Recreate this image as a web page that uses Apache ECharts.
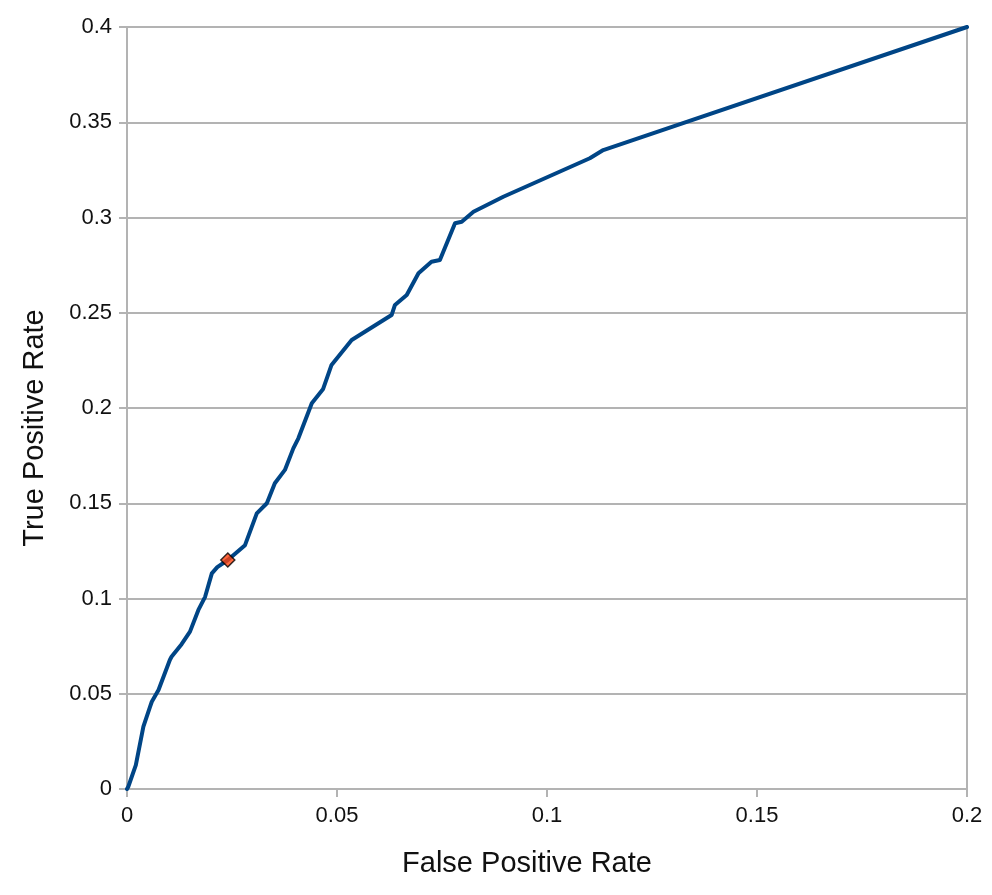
<!DOCTYPE html>
<html>
<head>
<meta charset="utf-8">
<script src="https://cdn.jsdelivr.net/npm/echarts@6/dist/echarts.min.js"></script>
<style>
  html, body { margin: 0; padding: 0; background: #fff; }
  #main { width: 992px; height: 895px; }
</style>
</head>
<body>
<div id="main"></div>
<script>
// ROC curve
const fpr = [0, 0.0003, 0.0021, 0.0039, 0.0055, 0.0059, 0.0075, 0.0102, 0.0106, 0.0130, 0.0150,
  0.0170, 0.0186, 0.0202, 0.0215, 0.0240, 0.0281, 0.0309, 0.0333, 0.0352, 0.0376, 0.0396,
  0.0408, 0.0440, 0.0467, 0.0487, 0.0535, 0.0630, 0.0638, 0.0666, 0.0694, 0.0725, 0.0745,
  0.0781, 0.0797, 0.0825, 0.0896, 0.1102, 0.1134, 0.2];
const tpr = [0, 0.0012, 0.0125, 0.0327, 0.0432, 0.0458, 0.052, 0.0677, 0.0694, 0.0760, 0.0826,
  0.094, 0.1009, 0.1132, 0.1165, 0.1202, 0.128, 0.1447, 0.150, 0.1605, 0.1675, 0.1788,
  0.1841, 0.2025, 0.2100, 0.2226, 0.2357, 0.2488, 0.2541, 0.2593, 0.2707, 0.2768, 0.2777,
  0.2970, 0.2978, 0.3030, 0.3109, 0.3311, 0.3354, 0.4];
const operatingPoint = [0.024, 0.1202];

const xTicks = [0, 0.05, 0.1, 0.15, 0.2];
const yTicks = [0, 0.05, 0.1, 0.15, 0.2, 0.25, 0.3, 0.35, 0.4];

var myChart = echarts.init(document.getElementById("main"));

const axisFont = { fontFamily: "Liberation Sans", fontSize: 22, color: "#111" };
const gray = "#b3b3b3";

option = {
  animation: false,
  grid: { left: 127, right: 25, top: 27, bottom: 106, show: true, borderColor: gray, borderWidth: 2 },
  xAxis: {
    type: "value",
    min: xTicks[0],
    max: xTicks[xTicks.length - 1],
    interval: 0.05,
    name: "False Positive Rate",
    nameLocation: "middle",
    nameGap: 60,
    // titles sit a bit off the plot centre in the original
    nameTextStyle: { fontFamily: "Liberation Sans", fontSize: 29, color: "#111", padding: [0, 40, 0, 0] },
    axisLine: { lineStyle: { color: gray, width: 2 } },
    axisTick: { show: true, length: 8, lineStyle: { color: gray, width: 2 } },
    axisLabel: Object.assign({ margin: 16 }, axisFont),
    splitLine: { show: false },
  },
  yAxis: {
    type: "value",
    min: yTicks[0],
    max: yTicks[yTicks.length - 1],
    interval: 0.05,
    name: "True Positive Rate",
    nameLocation: "middle",
    nameGap: 78,
    nameTextStyle: { fontFamily: "Liberation Sans", fontSize: 29, color: "#111", padding: [0, 40, 0, 0] },
    axisLine: { show: true, lineStyle: { color: gray, width: 2 } },
    axisTick: { show: true, length: 8, lineStyle: { color: gray, width: 2 } },
    axisLabel: Object.assign({ margin: 15 }, axisFont),
    splitLine: { show: true, lineStyle: { color: gray, width: 2 } },
  },
  series: [
    {
      type: "line",
      data: fpr.map((x, i) => [x, tpr[i]]),
      showSymbol: false,
      lineStyle: { color: "#004586", width: 4, cap: "round", join: "round" },
      z: 2,
    },
    {
      type: "scatter",
      data: [operatingPoint],
      symbol: "diamond",
      symbolSize: 14,
      itemStyle: { color: "#ff420e", borderColor: "#000", borderWidth: 1.5 },
      z: 3,
    },
  ],
};

myChart.setOption(option);
</script>
</body>
</html>
